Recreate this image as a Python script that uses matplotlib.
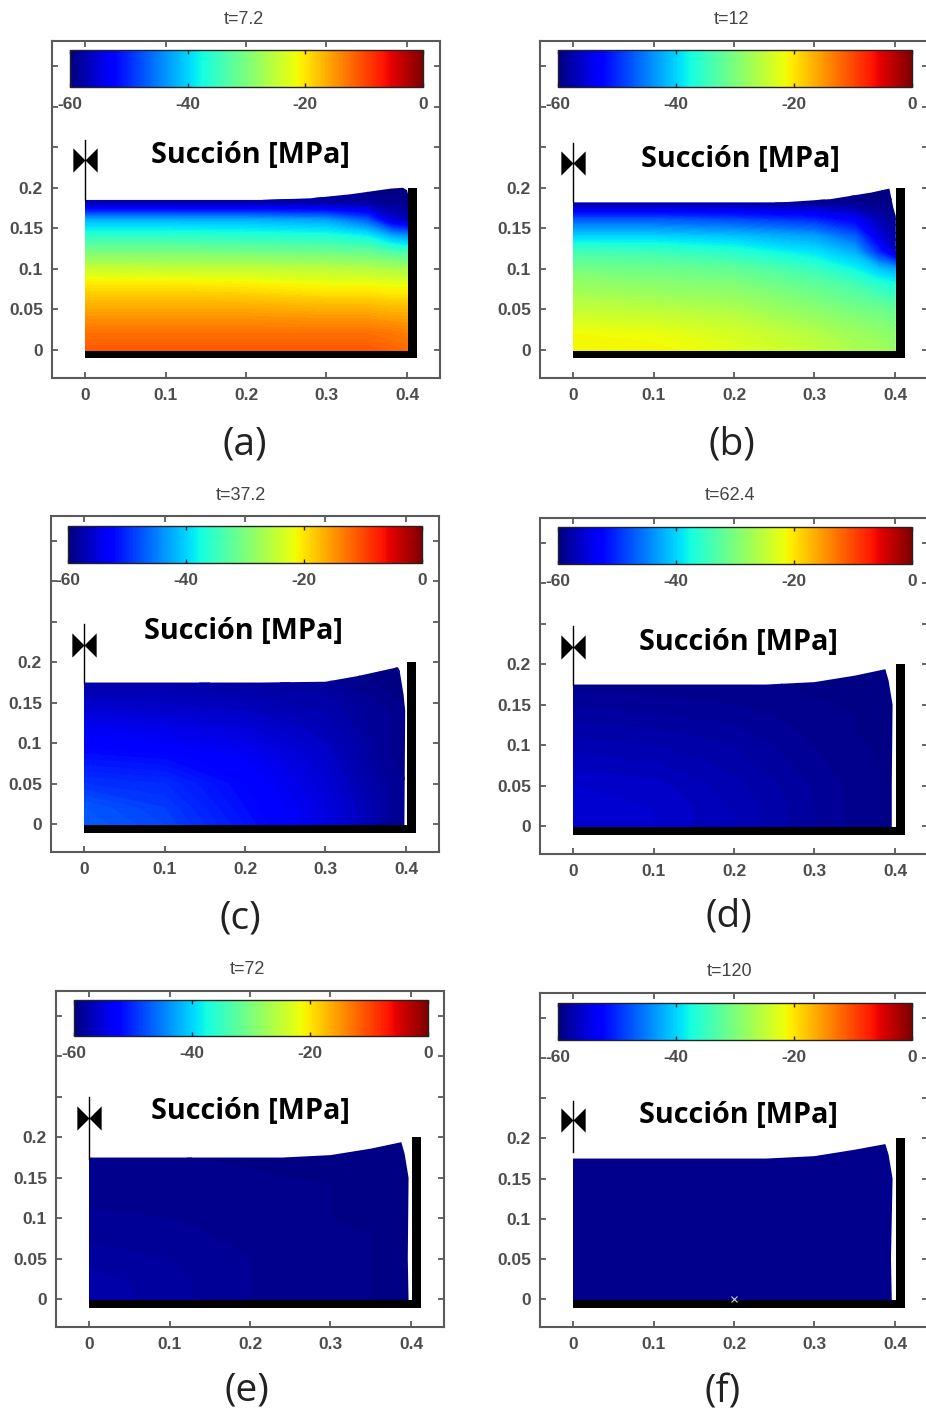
import numpy as np
import matplotlib
matplotlib.use("Agg")
import matplotlib.pyplot as plt
from matplotlib.path import Path
from matplotlib.patches import Polygon
from matplotlib.cm import ScalarMappable
from matplotlib.colors import Normalize

W, H = 926, 1416

# grid the suction was read on
x_nodes = [0, 0.1, 0.2, 0.3, 0.35, 0.38, 0.403]
y_nodes = [-0.002, 0.02, 0.05, 0.08, 0.1, 0.12, 0.14, 0.16, 0.18, 0.2]

suction_a = [[-11, -11, -11, -11, -11, -11.5, -12],
             [-12.5, -12.5, -12.5, -12.5, -12.5, -13, -13.5],
             [-16, -16, -16, -16.5, -16.5, -17, -17],
             [-20, -20, -20.5, -21.5, -21.5, -22, -22],
             [-24.5, -25, -25, -25.5, -26, -26.5, -27],
             [-30, -30, -30.5, -31, -31.5, -33, -34],
             [-35.5, -35.5, -36, -36.5, -38, -42, -44],
             [-42, -42, -42, -43, -47, -55, -57],
             [-57, -57, -57, -57.5, -58, -59, -59],
             [-60, -60, -60, -60, -60, -60, -60]]

suction_b = [[-21, -21, -22.5, -25, -26.5, -27, -28],
             [-21.5, -22, -23.5, -26, -27.5, -28.5, -29],
             [-25, -25.5, -26.5, -29, -30.5, -31, -32],
             [-28, -29, -29.5, -32, -34, -36, -37],
             [-30.5, -31, -32, -35, -38, -41, -43],
             [-34, -34.5, -36, -39, -42, -50, -57],
             [-40, -40, -41, -43, -47, -55, -58],
             [-47, -47, -48, -50, -53, -57, -59],
             [-58, -58, -58, -58.5, -59, -59.5, -60],
             [-60, -60, -60, -60, -60, -60, -60]]

suction_c = [[-47, -48.5, -51.5, -55, -57, -58.5, -59],
             [-47.5, -49, -52, -55, -57, -58.5, -59],
             [-49.5, -50, -52.5, -55.5, -57.5, -58.5, -59],
             [-51.5, -52, -53.5, -56, -58, -59, -59.5],
             [-53, -53.5, -54.5, -56.5, -58, -59, -59.5],
             [-54, -54.5, -55.5, -57, -58.5, -59, -59.5],
             [-55.5, -56, -56.5, -57.5, -58.5, -59, -59.5],
             [-57, -57, -57.5, -58, -59, -59.5, -59.5],
             [-58, -58, -58.5, -59, -59.5, -59.5, -60],
             [-59, -59, -59, -59.5, -60, -60, -60]]

suction_d = [[-55.5, -56, -57, -58.5, -59.2, -59.5, -59.7],
             [-55.5, -56, -57, -58.5, -59.2, -59.5, -59.7],
             [-56, -56.3, -57.3, -58.6, -59.2, -59.5, -59.7],
             [-56.8, -57, -57.8, -58.9, -59.3, -59.5, -59.7],
             [-57.2, -57.5, -58, -59, -59.4, -59.6, -59.7],
             [-57.8, -58, -58.4, -59.2, -59.5, -59.6, -59.7],
             [-58.3, -58.5, -58.8, -59.3, -59.5, -59.7, -59.8],
             [-58.8, -59, -59.2, -59.5, -59.6, -59.7, -59.8],
             [-59.3, -59.3, -59.4, -59.6, -59.7, -59.8, -59.8],
             [-59.5, -59.5, -59.5, -59.7, -59.8, -59.8, -59.8]]

suction_e = [[-57.6, -58.3, -59, -59.4, -59.5, -59.5, -59.5],
             [-57.7, -58.3, -59, -59.4, -59.5, -59.5, -59.5],
             [-58.2, -58.5, -59, -59.4, -59.5, -59.5, -59.5],
             [-58.7, -58.8, -59.2, -59.4, -59.5, -59.5, -59.5],
             [-58.9, -59, -59.2, -59.5, -59.5, -59.5, -59.5],
             [-59.1, -59.2, -59.3, -59.5, -59.5, -59.5, -59.5],
             [-59.3, -59.3, -59.4, -59.5, -59.5, -59.5, -59.5],
             [-59.4, -59.4, -59.5, -59.5, -59.5, -59.5, -59.5],
             [-59.5, -59.5, -59.5, -59.5, -59.5, -59.5, -59.5],
             [-59.5, -59.5, -59.5, -59.5, -59.5, -59.5, -59.5]]

suction_f = [[-59.4] * 7] * 10

# top surface and shrunken right side of the sample
profile_x_a = [0, 0.22, 0.28, 0.33, 0.38, 0.395, 0.4, 0.402, 0.402, 0]
profile_y_a = [0.185, 0.185, 0.187, 0.192, 0.199, 0.2, 0.197, 0.19, -0.002, -0.002]
profile_x_b = [0, 0.26, 0.32, 0.37, 0.393, 0.398, 0.401, 0.401, 0]
profile_y_b = [0.182, 0.182, 0.186, 0.194, 0.199, 0.175, 0.165, -0.002, -0.002]
profile_x_c = [0, 0.22, 0.3, 0.34, 0.39, 0.392, 0.397, 0.399, 0.398, 0]
profile_y_c = [0.175, 0.175, 0.176, 0.183, 0.194, 0.19, 0.16, 0.14, -0.002, -0.002]
profile_x_d = [0, 0.24, 0.3, 0.35, 0.388, 0.392, 0.397, 0.396, 0.396, 0]
profile_y_d = [0.175, 0.175, 0.178, 0.186, 0.194, 0.18, 0.15, 0.05, -0.002, -0.002]
profile_x_e = [0, 0.24, 0.3, 0.35, 0.388, 0.392, 0.397, 0.396, 0.397, 0]
profile_y_e = [0.175, 0.175, 0.178, 0.186, 0.194, 0.18, 0.15, 0.05, -0.002, -0.002]
profile_x_f = [0, 0.24, 0.3, 0.35, 0.388, 0.392, 0.397, 0.395, 0.396, 0]
profile_y_f = [0.175, 0.175, 0.178, 0.186, 0.193, 0.18, 0.15, 0.05, -0.002, -0.002]

times = ["t=7.2", "t=12", "t=37.2", "t=62.4", "t=72", "t=120"]
letters = ["(a)", "(b)", "(c)", "(d)", "(e)", "(f)"]
x_ticks = [0, 0.1, 0.2, 0.3, 0.4]
x_tick_labels = ["0", "0.1", "0.2", "0.3", "0.4"]
y_ticks = [0, 0.05, 0.1, 0.15, 0.2, 0.25, 0.3, 0.35]
y_tick_labels = ["0", "0.05", "0.1", "0.15", "0.2", "", "", ""]
cbar_ticks = [-60, -40, -20, 0]
cbar_tick_labels = ["-60", "-40", "-20", "0"]
hinge_y = [0.2345, 0.231, 0.222, 0.222, 0.2235, 0.223]
hinge_top = [0.259, 0.2555, 0.247, 0.247, 0.25, 0.247]
hinge_bottom = [0.185, 0.182, 0.175, 0.175, 0.173, 0.183]

suctions = [suction_a, suction_b, suction_c, suction_d, suction_e, suction_f]
profiles = [(profile_x_a, profile_y_a), (profile_x_b, profile_y_b), (profile_x_c, profile_y_c),
            (profile_x_d, profile_y_d), (profile_x_e, profile_y_e), (profile_x_f, profile_y_f)]

# pixel layout: box left,right,top,bottom
boxes = [(52, 440, 41, 378), (540, 928, 41, 378), (51, 439, 516, 852),
         (540, 928, 518, 854), (56, 444, 991, 1327), (540, 928, 993, 1327)]
bars = [(70, 423, 50, 87), (558, 912, 50, 87), (68, 422, 526, 563),
        (558, 912, 527, 564), (74, 428, 1000, 1036), (558, 912, 1003, 1040)]
time_pos = [(244, 19), (732, 19), (241, 495), (730, 496), (247, 969), (730, 972)]
name_pos = [(250, 155), (740, 159), (243, 632), (738, 643), (250, 1112), (738, 1116)]
letter_pos = [(245, 445), (732, 445), (240, 919), (729, 917), (247, 1390), (723, 1392)]

GREY = "#4d4d4d"
TICK_FONT = ["Liberation Sans", "DejaVu Sans"]
bowtie = Path([(-1, -1), (0, 0), (1, -1), (1, 1), (0, 0), (-1, 1), (-1, -1)])


def px_axes(fig, left, right, top, bottom):
    return fig.add_axes([left / W, 1 - bottom / H, (right - left) / W, (bottom - top) / H])


fig = plt.figure(figsize=(W / 100, H / 100), dpi=100)
levels = np.linspace(-60, 0, 121)
X, Y = np.meshgrid(x_nodes, y_nodes)

for i in range(6):
    ax = px_axes(fig, *boxes[i])
    ax.set_xlim(-0.041, 0.441)
    ax.set_ylim(-0.0346, 0.381)

    cs = ax.contourf(X, Y, np.array(suctions[i]), levels=levels, cmap="jet", vmin=-60, vmax=0,
                     extend="both", antialiased=False)
    clip = Polygon(np.column_stack(profiles[i]), closed=True, transform=ax.transData)
    cs.set_clip_path(clip)

    # black base and wall
    ax.fill_between([0, 0.412], -0.0105, -0.001, color="black", lw=0)
    ax.fill_between([0.401, 0.412], -0.0105, 0.2, color="black", lw=0)

    ax.plot([0, 0], [hinge_bottom[i], hinge_top[i]], color="black", lw=1)
    ax.plot([0], [hinge_y[i]], marker=bowtie, ms=17.5, color="black", mew=0, ls="none")
    if i == 5:
        ax.plot([0.2], [0], marker="x", ms=5, mew=0.8, color="#d0d0e0", ls="none")

    ax.set_xticks(x_ticks, x_tick_labels)
    ax.set_yticks(y_ticks, y_tick_labels)
    ax.tick_params(direction="in", length=4, width=1.2, color=GREY, top=True, right=True,
                   labelcolor=GREY, labelsize=12.5)
    ax.tick_params(axis="x", pad=7)
    ax.tick_params(axis="y", pad=6.5)
    for lab in ax.get_xticklabels() + ax.get_yticklabels():
        lab.set_family(TICK_FONT)
        lab.set_weight("bold")
    for sp in ax.spines.values():
        sp.set_color("#5a5a5a")
        sp.set_linewidth(1.5)

    cax = px_axes(fig, *bars[i])
    cb = fig.colorbar(ScalarMappable(Normalize(-60, 0), "jet"), cax=cax, orientation="horizontal")
    cb.set_ticks(cbar_ticks, labels=cbar_tick_labels)
    cax.tick_params(direction="in", length=3, width=1, color="#222222", top=True, bottom=True,
                    labelcolor=GREY, labelsize=12.5, pad=7)
    for lab in cax.get_xticklabels():
        lab.set_family(TICK_FONT)
        lab.set_weight("bold")
    cb.outline.set_edgecolor("#222222")
    cb.outline.set_linewidth(1)

    fig.text(time_pos[i][0] / W, 1 - time_pos[i][1] / H, times[i], ha="center", va="center",
             color="#444444", fontsize=13, family=TICK_FONT)
    fig.text(name_pos[i][0] / W, 1 - name_pos[i][1] / H, "Succión [MPa]", ha="center", va="center",
             color="black", fontsize=20.8, family="Open Sans", weight="bold")
    fig.text(letter_pos[i][0] / W, 1 - letter_pos[i][1] / H, letters[i], ha="center", va="center",
             color="#222222", fontsize=28, family="Open Sans")

fig.savefig("out.png", dpi=100)
